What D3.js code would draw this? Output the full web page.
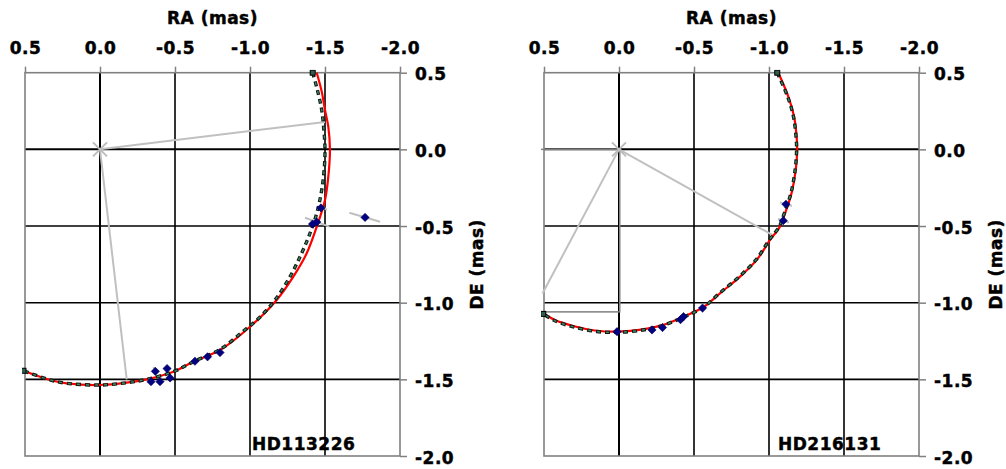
<!DOCTYPE html>
<html>
<head>
<meta charset="utf-8">
<script src="https://cdn.jsdelivr.net/npm/d3@7"></script>
<style>
  html, body { margin: 0; padding: 0; background: #fff; }
  svg { display: block; }
  .lbl { font-family: "DejaVu Sans", Verdana, sans-serif; font-weight: bold; fill: #000;
         stroke: #000; stroke-width: 0.45px; letter-spacing: 0.5px; }
</style>
</head>
<body>
<svg id="chart" width="1006" height="469"></svg>
<script>
// Axis ticks (mas)
const raTicks = [0.5, 0.0, -0.5, -1.0, -1.5, -2.0];
const raTickLabels = ["0.5", "0.0", "-0.5", "-1.0", "-1.5", "-2.0"];
const deTicks = [0.5, 0.0, -0.5, -1.0, -1.5, -2.0];
const deTickLabels = ["0.5", "0.0", "-0.5", "-1.0", "-1.5", "-2.0"];
const starNames = ["HD113226", "HD216131"];

// HD113226: orbit fit (solid red), alternative orbit (dashed), measurements [RA, DE]
const hd113226Fit = [
  [-1.445, 0.5], [-1.478, 0.377], [-1.5, 0.257], [-1.522, 0.148], [-1.533, -0.004],
  [-1.522, -0.178], [-1.5, -0.33], [-1.445, -0.504], [-1.378, -0.678], [-1.289, -0.83],
  [-1.178, -0.982], [-1.0, -1.157], [-0.8, -1.309], [-0.622, -1.385], [-0.489, -1.45],
  [-0.311, -1.5], [-0.178, -1.522], [0.0, -1.537], [0.222, -1.526], [0.333, -1.504],
  [0.51, -1.444]
];
const hd113226Alt = [
  [-1.418, 0.5], [-1.449, 0.388], [-1.478, 0.257], [-1.496, 0.083], [-1.5, -0.004],
  [-1.496, -0.113], [-1.478, -0.265], [-1.445, -0.417], [-1.4, -0.547], [-1.344, -0.678],
  [-1.267, -0.83], [-1.167, -0.982], [-1.06, -1.1], [-0.95, -1.19], [-0.8, -1.305],
  [-0.622, -1.385], [-0.489, -1.45], [-0.311, -1.5], [-0.178, -1.522], [0.0, -1.537],
  [0.222, -1.526], [0.333, -1.504], [0.51, -1.444]
];
const hd113226Obs = [
  [-1.473, -0.382], [-1.445, -0.474], [-1.417, -0.487], [-1.767, -0.444],
  [-0.34, -1.515], [-0.4, -1.515], [-0.467, -1.491], [-0.369, -1.448],
  [-0.447, -1.43], [-0.633, -1.382], [-0.717, -1.353], [-0.8, -1.325]
];
// error bars as segment ends [RA1, DE1, RA2, DE2]
const hd113226Err = [
  [-1.467, -0.362, -1.513, -0.395],
  [-1.367, -0.446, -1.529, -0.504],
  [-1.662, -0.413, -1.867, -0.472],
  [-0.357, -1.418, -0.369, -1.448]
];
// grey lines drawn from the primary at the origin
const hd113226Arms = [[-1.5, 0.179], [-0.178, -1.5]];

// HD216131
const hd216131Fit = [
  [-1.062, 0.5], [-1.129, 0.344], [-1.167, 0.214], [-1.184, 0.083], [-1.188, -0.004],
  [-1.178, -0.135], [-1.15, -0.287], [-1.107, -0.417], [-1.073, -0.504], [-1.007, -0.591],
  [-0.918, -0.721], [-0.807, -0.83], [-0.673, -0.939], [-0.562, -1.03], [-0.429, -1.091],
  [-0.295, -1.145], [-0.162, -1.174], [0.005, -1.189], [0.149, -1.183], [0.305, -1.152],
  [0.427, -1.113], [0.505, -1.069]
];
const hd216131Alt = [
  [-1.055, 0.5], [-1.124, 0.344], [-1.163, 0.214], [-1.18, 0.083], [-1.184, -0.004],
  [-1.174, -0.135], [-1.146, -0.287], [-1.102, -0.417], [-1.068, -0.504], [-1.002, -0.591],
  [-0.913, -0.721], [-0.802, -0.83], [-0.669, -0.939], [-0.559, -1.033], [-0.427, -1.095],
  [-0.293, -1.148], [-0.16, -1.178], [0.005, -1.193], [0.149, -1.188], [0.305, -1.158],
  [0.427, -1.118], [0.505, -1.073]
];
const hd216131Obs = [
  [-1.113, -0.358], [-1.095, -0.465], [0.013, -1.189], [-0.22, -1.178],
  [-0.29, -1.162], [-0.41, -1.111], [-0.43, -1.091], [-0.557, -1.035]
];
const hd216131Err = [
  [-1.073, -0.346, -1.153, -0.369],
  [-1.06, -0.454, -1.133, -0.477]
];
const hd216131Arms = [[-1.025, -0.56], [0.51, -0.94]];
// grey frame [RA1, DE1, RA2, DE2]
const hd216131Box = [0.525, 0.0, -0.005, -1.06];

const panels = [
  { name: starNames[0], fit: hd113226Fit, alt: hd113226Alt, obs: hd113226Obs,
    err: hd113226Err, arms: hd113226Arms, box: null, left: 25, right: 400, labelX: 252 },
  { name: starNames[1], fit: hd216131Fit, alt: hd216131Alt, obs: hd216131Obs,
    err: hd216131Err, arms: hd216131Arms, box: hd216131Box, left: 544, right: 919, labelX: 778 }
];

const svg = d3.select("#chart");
const plotTop = 72.7, plotBottom = 456;
const grey = "#808080";

panels.forEach((p, i) => {
  const x = d3.scaleLinear().domain([raTicks[0], raTicks[raTicks.length - 1]]).range([p.left, p.right]);
  const y = d3.scaleLinear().domain([deTicks[0], deTicks[deTicks.length - 1]]).range([plotTop, plotBottom]);
  const g = svg.append("g");

  const clipId = "clip" + i;
  svg.append("clipPath").attr("id", clipId)
    .append("rect").attr("x", p.left - 3).attr("y", plotTop - 3)
    .attr("width", p.right - p.left + 6).attr("height", plotBottom - plotTop + 6);

  // grid
  g.selectAll(".vgrid").data(raTicks.slice(1, -1)).join("line")
    .attr("x1", d => x(d)).attr("x2", d => x(d)).attr("y1", plotTop).attr("y2", plotBottom)
    .attr("stroke", "#000").attr("stroke-width", d => d === 0 ? 2 : 1.6);
  g.selectAll(".hgrid").data(deTicks.slice(1, -1)).join("line")
    .attr("y1", d => y(d)).attr("y2", d => y(d)).attr("x1", p.left).attr("x2", p.right)
    .attr("stroke", "#000").attr("stroke-width", d => d === 0 ? 2 : 1.6);

  // frame
  g.append("rect").attr("x", p.left).attr("y", plotTop)
    .attr("width", p.right - p.left).attr("height", plotBottom - plotTop)
    .attr("fill", "none").attr("stroke", grey).attr("stroke-width", 1.6);

  // axes
  const ax = g.append("g").attr("transform", `translate(0,${plotTop})`)
    .call(d3.axisTop(x).tickValues(raTicks).tickFormat((d, k) => raTickLabels[k]).tickSize(6).tickPadding(13));
  const ay = g.append("g").attr("transform", `translate(${p.right},0)`)
    .call(d3.axisRight(y).tickValues(deTicks).tickFormat((d, k) => deTickLabels[k]).tickSize(7).tickPadding(8));
  [ax, ay].forEach(a => {
    a.select(".domain").remove();
    a.attr("font-family", null).attr("font-size", null);
    a.selectAll(".tick line").attr("stroke", grey).attr("stroke-width", 1.5);
    a.selectAll(".tick text").attr("class", "lbl").style("font-size", "17px");
  });
  ay.selectAll(".tick text").attr("dy", "0.42em");

  // axis titles
  g.append("text").attr("class", "lbl").attr("x", (p.left + p.right) / 2).attr("y", 24)
    .attr("text-anchor", "middle").style("font-size", "17px").text("RA (mas)");
  g.append("text").attr("class", "lbl")
    .attr("transform", `translate(${p.right + 83},${(plotTop + plotBottom) / 2}) rotate(-90)`)
    .attr("text-anchor", "middle").style("font-size", "17px").text("DE (mas)");

  const plot = g.append("g").attr("clip-path", `url(#${clipId})`);

  if (p.box) {
    plot.append("rect")
      .attr("x", x(p.box[0])).attr("y", y(p.box[1]))
      .attr("width", x(p.box[2]) - x(p.box[0])).attr("height", y(p.box[3]) - y(p.box[1]))
      .attr("fill", "none").attr("stroke", grey).attr("stroke-width", 1.5);
  }

  // grey lines from the origin
  plot.selectAll(".arm").data(p.arms).join("line")
    .attr("x1", x(0)).attr("y1", y(0)).attr("x2", d => x(d[0])).attr("y2", d => y(d[1]))
    .attr("stroke", "#c0c0c0").attr("stroke-width", 2);
  // primary marker
  const s = 7;
  plot.append("path")
    .attr("d", `M${x(0) - s},${y(0) - s}L${x(0) + s},${y(0) + s}M${x(0) - s},${y(0) + s}L${x(0) + s},${y(0) - s}`)
    .attr("stroke", "#bdbdbd").attr("stroke-width", 2).attr("fill", "none");

  // error bars
  plot.selectAll(".err").data(p.err).join("line")
    .attr("x1", d => x(d[0])).attr("y1", d => y(d[1])).attr("x2", d => x(d[2])).attr("y2", d => y(d[3]))
    .attr("stroke", "#c0c0c0").attr("stroke-width", 2);

  const line = d3.line().x(d => x(d[0])).y(d => y(d[1])).curve(d3.curveCatmullRom.alpha(0.5));

  plot.append("path").attr("d", line(p.fit)).attr("fill", "none")
    .attr("stroke", "#ff0000").attr("stroke-width", 2.2);

  plot.append("path").attr("d", line(p.alt)).attr("fill", "none")
    .attr("stroke", "#101a14").attr("stroke-width", 3.4).attr("stroke-dasharray", "5 4");
  plot.append("path").attr("d", line(p.alt)).attr("fill", "none")
    .attr("stroke", "#3f8a66").attr("stroke-width", 1.4).attr("stroke-dasharray", "3 6")
    .attr("stroke-dashoffset", -1);

  // end markers of the dashed orbit
  plot.selectAll(".end").data([p.alt[0], p.alt[p.alt.length - 1]]).join("rect")
    .attr("x", d => x(d[0]) - 2.5).attr("y", d => y(d[1]) - 2.5)
    .attr("width", 5).attr("height", 5).attr("fill", "#2f5f48").attr("stroke", "#000").attr("stroke-width", 1);

  // measurements
  plot.selectAll(".obs").data(p.obs).join("path")
    .attr("d", d3.symbol(d3.symbolSquare, 34))
    .attr("transform", d => `translate(${x(d[0])},${y(d[1])}) rotate(45)`)
    .attr("fill", "#000080").attr("stroke", "#00005a").attr("stroke-width", 0.6);

  g.append("text").attr("class", "lbl").attr("x", p.labelX).attr("y", 450)
    .style("font-size", "17px").text(p.name);
});
</script>
</body>
</html>
